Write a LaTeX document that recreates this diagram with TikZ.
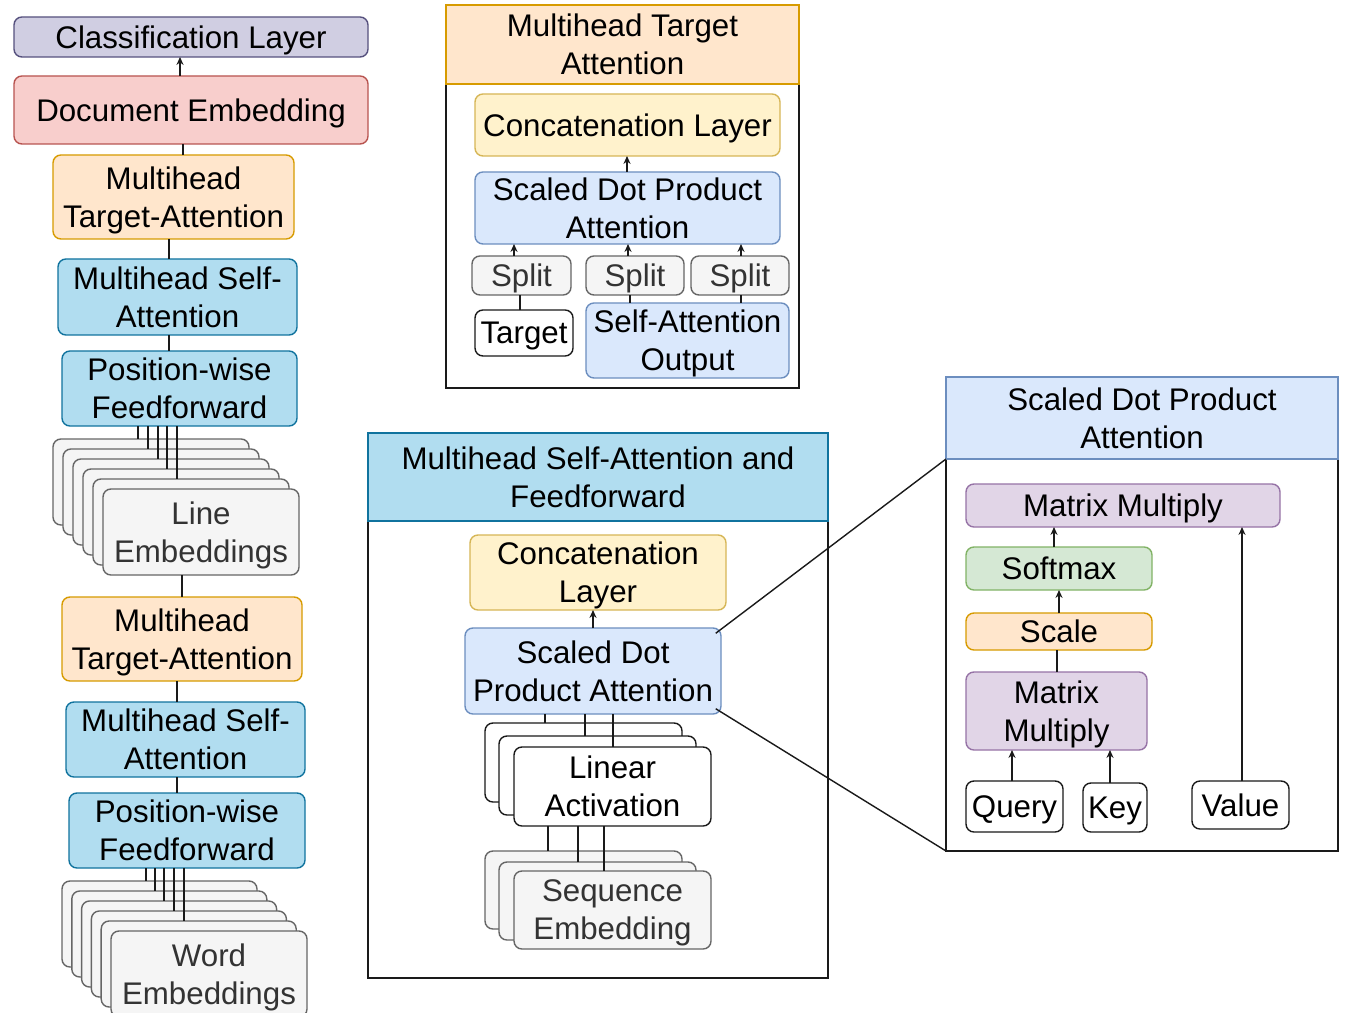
\documentclass[tikz,border=0pt]{standalone}
\usepackage{fontspec}
\setmainfont{Liberation Sans}
\usetikzlibrary{arrows.meta}

\definecolor{lavFill}{HTML}{D0CEE2}\definecolor{lavLine}{HTML}{56517E}
\definecolor{redFill}{HTML}{F8CECC}\definecolor{redLine}{HTML}{B85450}
\definecolor{orgFill}{HTML}{FFE6CC}\definecolor{orgLine}{HTML}{D79B00}
\definecolor{cyaFill}{HTML}{B1DDF0}\definecolor{cyaLine}{HTML}{10739E}
\definecolor{gryFill}{HTML}{F5F5F5}\definecolor{gryLine}{HTML}{666666}\definecolor{gryText}{HTML}{333333}
\definecolor{ylwFill}{HTML}{FFF2CC}\definecolor{ylwLine}{HTML}{D6B656}
\definecolor{bluFill}{HTML}{DAE8FC}\definecolor{bluLine}{HTML}{6C8EBF}
\definecolor{purFill}{HTML}{E1D5E7}\definecolor{purLine}{HTML}{9673A6}
\definecolor{grnFill}{HTML}{D5E8D4}\definecolor{grnLine}{HTML}{82B366}
\definecolor{ink}{HTML}{1A1A1A}

% rounded block placed by its corners (px units):
% [text options], style, name, x1, y1, x2, y2, text
% (the phantom gives every label the same depth, so labels centre alike)
\newcommand\pxbox[8][]{%
  \node[#2, minimum width={((#6)-(#4))*0.02cm}, minimum height={((#7)-(#5))*0.02cm}]
    (#3) at ({((#4)+(#6))/2},{((#5)+(#7))/2}) {};
  \node[#1] (#3-t) at ([yshift=-0.06cm]#3.center) {#8\vphantom{g}};}
% plain box placed by its corners: style, name, x1, y1, x2, y2
\newcommand\pxpanel[6]{%
  \node[#1, minimum width={((#5)-(#3))*0.02cm}, minimum height={((#6)-(#4))*0.02cm}]
    (#2) at ({((#3)+(#5))/2},{((#4)+(#6))/2}) {};}

\tikzset{
  every node/.style={font=\fontsize{17.8pt}{21.6pt}\selectfont, inner sep=0pt, outer sep=0pt, align=center},
  blk/.style={rounded corners=4.5pt, line width=0.8pt},
  lav/.style={blk, fill=lavFill, draw=lavLine},
  red/.style={blk, fill=redFill, draw=redLine},
  org/.style={blk, fill=orgFill, draw=orgLine},
  cya/.style={blk, fill=cyaFill, draw=cyaLine},
  gry/.style={blk, fill=gryFill, draw=gryLine},
  grytxt/.style={text=gryText},
  ylw/.style={blk, fill=ylwFill, draw=ylwLine},
  blu/.style={blk, fill=bluFill, draw=bluLine},
  pur/.style={blk, fill=purFill, draw=purLine},
  grn/.style={blk, fill=grnFill, draw=grnLine},
  wht/.style={blk, fill=white, draw=ink},
  body/.style={draw=ink, fill=white, line width=0.8pt},
  hdrOrg/.style={fill=orgFill, draw=orgLine, line width=0.8pt},
  hdrCya/.style={fill=cyaFill, draw=cyaLine, line width=0.8pt},
  hdrBlu/.style={fill=bluFill, draw=bluLine, line width=0.8pt},
  link/.style={draw=ink, line width=0.8pt},
  arr/.style={link, -{Stealth[length=4.5pt,width=4pt]}},
}

\begin{document}
\begin{tikzpicture}[x=0.02cm, y=-0.02cm]
\useasboundingbox[fill=white] (0,0) rectangle (1345,1013);

% ---------------- left column: document model ----------------
\pxbox{lav}{cls}{14}{17}{368}{57}{Classification Layer}
\pxbox{red}{doc}{14}{76}{368}{144}{Document Embedding}
\pxbox{org}{mta1}{53}{155}{294}{239}{Multihead\\Target-Attention}
\pxbox{cya}{msa1}{58}{259}{297}{335}{Multihead Self-\\Attention}
\pxbox{cya}{ff1}{62}{351}{297}{426}{Position-wise\\Feedforward}

\draw[arr] (180,0 |- doc.north) -- (180,0 |- cls.south);
\draw[link] (183,0 |- doc.south) -- (183,0 |- mta1.north);
\draw[link] (169,0 |- mta1.south) -- (169,0 |- msa1.north);
\draw[link] (169,0 |- msa1.south) -- (169,0 |- ff1.north);

% stack of line embeddings
\foreach \i in {0,...,4}{
  \pxpanel{gry}{le\i}{53+10*\i}{439+10*\i}{249+10*\i}{525+10*\i}
}
\pxbox[grytxt]{gry}{le5}{103}{489}{299}{575}{Line\\Embeddings}
\foreach \i/\x in {0/138,1/148,2/158,3/167,4/177}{
  \draw[link] (\x,0 |- ff1.south) -- (\x,0 |- le\i.north);
}

\pxbox{org}{mta2}{62}{597}{302}{681}{Multihead\\Target-Attention}
\pxbox{cya}{msa2}{66}{702}{305}{777}{Multihead Self-\\Attention}
\pxbox{cya}{ff2}{69}{793}{305}{868}{Position-wise\\Feedforward}

\draw[link] (182,0 |- le5.south) -- (182,0 |- mta2.north);
\draw[link] (177,0 |- mta2.south) -- (177,0 |- msa2.north);
\draw[link] (177,0 |- msa2.south) -- (177,0 |- ff2.north);

% stack of word embeddings
\foreach \i in {0,...,4}{
  \pxpanel{gry}{we\i}{62+9.8*\i}{881+10*\i}{257+9.8*\i}{967+10*\i}
}
\pxbox[grytxt]{gry}{we5}{111}{931}{307}{1017}{Word\\Embeddings}
\foreach \i/\x in {0/146,1/155,2/164,3/174,4/184}{
  \draw[link] (\x,0 |- ff2.south) -- (\x,0 |- we\i.north);
}

% ---------------- panel: multihead target attention ----------------
\pxpanel{body}{tpBody}{446}{84}{799}{388}
\pxpanel{hdrOrg}{tpHead}{446}{5}{799}{84}
\node (tpHeadText) at (tpHead.center) {Multihead Target\\Attention};
\pxbox{ylw}{tpCat}{475}{94}{780}{156}{Concatenation Layer}
\pxbox{blu}{tpSdpa}{475}{172}{780}{244}{Scaled Dot Product\\Attention}
\pxbox[grytxt]{gry}{sp1}{472}{256}{571}{295}{Split}
\pxbox[grytxt]{gry}{sp2}{586}{256}{684}{295}{Split}
\pxbox[grytxt]{gry}{sp3}{691}{256}{789}{295}{Split}
\pxbox{wht}{tgt}{475}{310}{573}{356}{Target}
\pxbox{blu}{sao}{586}{303}{789}{378}{Self-Attention\\Output}

\draw[arr] (627,0 |- tpSdpa.north) -- (627,0 |- tpCat.south);
\draw[arr] (514,0 |- sp1.north) -- (514,0 |- tpSdpa.south);
\draw[arr] (628,0 |- sp2.north) -- (628,0 |- tpSdpa.south);
\draw[arr] (741,0 |- sp3.north) -- (741,0 |- tpSdpa.south);
\draw[link] (520,0 |- tgt.north) -- (520,0 |- sp1.south);
\draw[link] (630,0 |- sao.north) -- (630,0 |- sp2.south);
\draw[link] (741,0 |- sao.north) -- (741,0 |- sp3.south);

% ---------------- panel: multihead self-attention and feedforward ----------------
\pxpanel{body}{msBody}{368}{521}{828}{978}
\pxpanel{hdrCya}{msHead}{368}{433}{828}{521}
\node (msHeadText) at (msHead.center) {Multihead Self-Attention and\\Feedforward};
\pxbox{ylw}{msCat}{470}{535}{726}{610}{Concatenation\\Layer}
\pxbox{blu}{msSdpa}{465}{628}{721}{714}{Scaled Dot\\Product Attention}
\draw[arr] (593,0 |- msSdpa.north) -- (593,0 |- msCat.south);

\pxpanel{wht}{la0}{485}{723}{682}{802}
\pxpanel{wht}{la1}{499}{736}{696}{815}
\pxbox{wht}{la2}{514}{747}{711}{826}{Linear\\Activation}
\draw[link] (545,0 |- msSdpa.south) -- (545,0 |- la0.north);
\draw[link] (585,0 |- msSdpa.south) -- (585,0 |- la1.north);
\draw[link] (613,0 |- msSdpa.south) -- (613,0 |- la2.north);

\pxpanel{gry}{se0}{485}{851}{682}{929}
\pxpanel{gry}{se1}{499}{862}{696}{940}
\pxbox[grytxt]{gry}{se2}{514}{871}{711}{949}{Sequence\\Embedding}
\draw[link] (548,0 |- la2.south) -- (548,0 |- se0.north);
\draw[link] (578,0 |- la2.south) -- (578,0 |- se1.north);
\draw[link] (604,0 |- la2.south) -- (604,0 |- se2.north);

% ---------------- panel: scaled dot product attention ----------------
\pxpanel{body}{sdBody}{946}{459}{1338}{851}
\pxpanel{hdrBlu}{sdHead}{946}{377}{1338}{459}
\node (sdHeadText) at (sdHead.center) {Scaled Dot Product\\Attention};
\pxbox{pur}{mm1}{966}{484}{1280}{527}{Matrix Multiply}
\pxbox{grn}{smx}{966}{547}{1152}{590}{Softmax}
\pxbox{org}{scl}{966}{613}{1152}{650}{Scale}
\pxbox{pur}{mm2}{966}{672}{1147}{750}{Matrix\\Multiply}
\pxbox{wht}{qry}{966}{781}{1063}{832}{Query}
\pxbox{wht}{key}{1083}{783}{1147}{832}{Key}
\pxbox{wht}{val}{1192}{781}{1289}{829}{Value}

\draw[arr] (1054,0 |- smx.north) -- (1054,0 |- mm1.south);
\draw[arr] (1059,0 |- scl.north) -- (1059,0 |- smx.south);
\draw[link] (1057,0 |- mm2.north) -- (1057,0 |- scl.south);
\draw[arr] (1012,0 |- qry.north) -- (1012,0 |- mm2.south);
\draw[arr] (1110,0 |- key.north) -- (1110,0 |- mm2.south);
\draw[arr] (1242,0 |- val.north) -- (1242,0 |- mm1.south);

% zoom-out guides from the middle panel's attention block
\draw[link] ([shift={(-3pt,-3pt)}]msSdpa.north east) -- (sdBody.north west);
\draw[link] ([shift={(-3pt,3pt)}]msSdpa.south east) -- (sdBody.south west);
\end{tikzpicture}
\end{document}
